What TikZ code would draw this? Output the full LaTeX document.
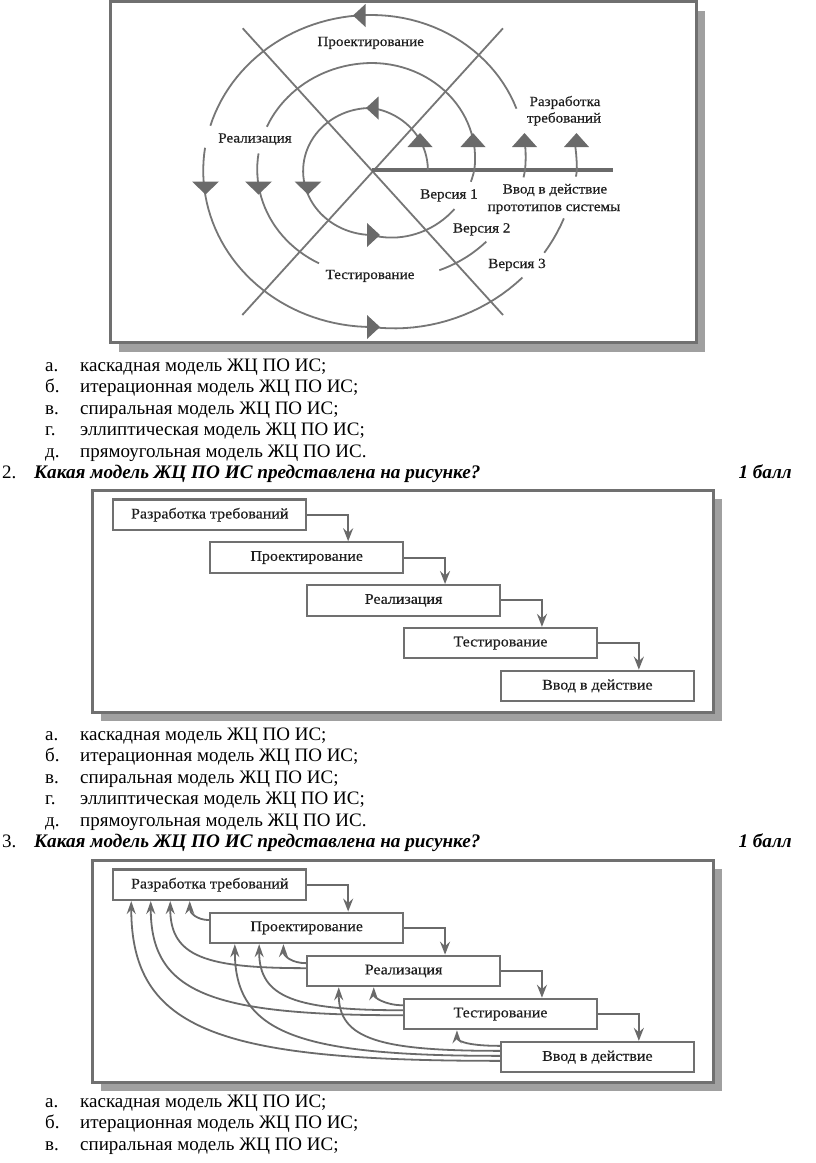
\documentclass[tikz,border=0pt]{standalone}
\usepackage{fontspec}
\setmainfont{Liberation Serif}
\newfontfamily\dfont[FakeStretch=1.08,FakeBold=0.4]{Liberation Serif}
\usetikzlibrary{arrows.meta,calc}
\definecolor{lnc}{HTML}{767676}
\definecolor{arc}{HTML}{6A6A6A}
\definecolor{frc}{HTML}{707070}
\definecolor{shc}{HTML}{A0A0A0}
\definecolor{txc}{HTML}{1E1E1E}
\newcommand\uparr[1]{\fill[arc] (#1-12.5,147) -- (#1+12.5,147) -- (#1,133) -- cycle;}
\newcommand\dnarr[1]{\fill[arc] (#1-13.5,181.5) -- (#1+13.5,181.5) -- (#1,194.5) -- cycle;}
\newcommand\lfarr[2]{\fill[arc] (#1,#2) -- (#1+12.5,#2-11.5) -- (#1+12.5,#2+11.5) -- cycle;}
\newcommand\rtarr[2]{\fill[arc] (#1,#2) -- (#1-13,#2-12) -- (#1-13,#2+12) -- cycle;}
\begin{document}
\begin{tikzpicture}[x=1pt,y=-1pt,
  sp/.style={draw=lnc, line width=1.8pt},
  lbl/.style={anchor=base, inner sep=0pt, text=txc, font=\dfont\fontsize{14}{16}\selectfont},
  wbox/.style={draw=frc, line width=2.1pt, fill=white, minimum width=193pt, minimum height=30.5pt, inner sep=0pt, text=txc, font=\dfont\fontsize{14.8}{16}\selectfont},
  fwd/.style={draw=arc, line width=2.1pt, -{Stealth[length=13pt,width=10pt,inset=4.5pt]}},
  fb/.style={draw=arc, line width=1.8pt, -{Stealth[length=13pt,width=9pt,inset=4.5pt]}},
  lst/.style={anchor=base west, inner sep=0pt, font=\fontsize{19}{22}\selectfont},
  lstb/.style={anchor=base west, inner sep=0pt, font=\fontsize{19.2}{22}\selectfont\bfseries\itshape},
  frame/.style={draw=frc, line width=3pt, fill=white},
]
\useasboundingbox (0,0) rectangle (816,1163);
\fill[white] (0,0) rectangle (816,1163);

% ---------- figure 1: spiral ----------
\fill[shc] (119,10.5) rectangle (705,351.5);
\path[frame] (110,1.5) rectangle (696,342.5);

\draw[sp] (242.7,28.3) -- (503,315);
\draw[sp] (503,28.3) -- (242.3,315);
\draw[draw=arc, line width=4.8pt] (371.7,170) -- (613.3,170);

% spiral pieces (angle u in degrees, radius piecewise)
\draw[sp] plot[domain=0:90,samples=30,variable=\u] ({371.7+1.08*(52+10*(1-cos(\u)))*cos(\u)},{170-(52+10*(1-cos(\u)))*sin(\u)})
       -- plot[domain=90:270,samples=50,variable=\u] ({371.7+1.08*(62+3*(\u-90)/180)*cos(\u)},{170-(62+3*(\u-90)/180)*sin(\u)})
       -- plot[domain=270:333,samples=20,variable=\u] ({371.7+1.08*(65+30*(\u-270)/90)*cos(\u)},{170-(65+30*(\u-270)/90)*sin(\u)});
\draw[sp] plot[domain=352.7:360,samples=4,variable=\u] ({371.7+1.08*(65+30*(\u-270)/90)*cos(\u)},{170-(65+30*(\u-270)/90)*sin(\u)})
       -- plot[domain=360:450,samples=30,variable=\u] ({371.7+1.08*(95+12*sin(\u))*cos(\u)},{170-(95+12*sin(\u))*sin(\u)})
       -- plot[domain=450:516,samples=25,variable=\u] ({371.7+1.08*(107-2*(\u-450)/180)*cos(\u)},{170-(107-2*(\u-450)/180)*sin(\u)});
\draw[sp] plot[domain=531:602.4,samples=25,variable=\u] ({371.7+1.08*(107-2*(\u-450)/180)*cos(\u)},{170-(107-2*(\u-450)/180)*sin(\u)});
\draw[sp] plot[domain=662:686,samples=10,variable=\u] ({371.7+1.08*(105+37*(\u-630)/90)*cos(\u)},{170-(105+37*(\u-630)/90)*sin(\u)});
\draw[sp] plot[domain=717:720,samples=3,variable=\u] ({371.7+1.08*(105+37*(\u-630)/90)*cos(\u)},{170-(105+37*(\u-630)/90)*sin(\u)})
       -- plot[domain=720:732,samples=6,variable=\u] ({371.7+1.08*(142+13*sin(\u))*cos(\u)},{170-(142+13*sin(\u))*sin(\u)});
\draw[sp] plot[domain=744.6:810,samples=25,variable=\u] ({371.7+1.08*(142+13*sin(\u))*cos(\u)},{170-(142+13*sin(\u))*sin(\u)})
       -- plot[domain=810:883.5,samples=30,variable=\u] ({371.7+1.08*(155+2*(\u-810)/180)*cos(\u)},{170-(155+2*(\u-810)/180)*sin(\u)});
\draw[sp] plot[domain=891.8:990,samples=40,variable=\u] ({371.7+1.08*(155+2*(\u-810)/180)*cos(\u)},{170-(155+2*(\u-810)/180)*sin(\u)})
       -- plot[domain=990:1042.4,samples=20,variable=\u] ({371.7+1.08*(157+33*(\u-990)/90)*cos(\u)},{170-(157+33*(\u-990)/90)*sin(\u)});
\draw[sp] plot[domain=1052.6:1064.8,samples=6,variable=\u] ({371.7+1.08*(157+33*(\u-990)/90)*cos(\u)},{170-(157+33*(\u-990)/90)*sin(\u)});
\draw[sp] plot[domain=1078:1080,samples=3,variable=\u] ({371.7+1.08*(157+33*(\u-990)/90)*cos(\u)},{170-(157+33*(\u-990)/90)*sin(\u)})
       -- plot[domain=1080:1087,samples=4,variable=\u] ({371.7+1.08*190*cos(\u)},{170-190*sin(\u)});

\uparr{420}\uparr{473}\uparr{524.5}\uparr{576.5}
\lfarr{366}{108}\lfarr{353}{15.5}
\dnarr{205.5}\dnarr{258.5}\dnarr{308}
\rtarr{380}{235}\rtarr{380}{327}

\node[lbl] (p1) at (370.7,46) {Проектирование};
\node[lbl] (p2) at (255,142.5) {Реализация};
\node[lbl] (p3) at (565,106) {Разработка};
\node[lbl] (p4) at (564,122.5) {требований};
\node[lbl] (p5) at (449,198.5) {Версия 1};
\node[lbl] (p6) at (555,193.5) {Ввод в действие};
\node[lbl] (p7) at (554,211) {прототипов системы};
\node[lbl] (p8) at (481.7,232.5) {Версия 2};
\node[lbl] (p9) at (517,268) {Версия 3};
\node[lbl] (p10) at (370,279) {Тестирование};

% ---------- list 1 ----------
\node[lst] (l1a) at (45,371) {а.};   \node[lst] (l1at) at (80,371) {каскадная модель ЖЦ ПО ИС;};
\node[lst] (l1b) at (45,392.5) {б.}; \node[lst] (l1bt) at (80,392.5) {итерационная модель ЖЦ ПО ИС;};
\node[lst] (l1c) at (45,414) {в.};   \node[lst] (l1ct) at (80,414) {спиральная модель ЖЦ ПО ИС;};
\node[lst] (l1d) at (45,435.5) {г.}; \node[lst] (l1dt) at (80,435.5) {эллиптическая модель ЖЦ ПО ИС;};
\node[lst] (l1e) at (45,457) {д.};   \node[lst] (l1et) at (80,457) {прямоугольная модель ЖЦ ПО ИС.};
\node[lst] (q2n) at (2,478.5) {2.};
\node[lstb] (q2) at (34,478.5) {Какая модель ЖЦ ПО ИС представлена на рисунке?};
\node[lstb, anchor=base east] (q2p) at (792,478.5) {1 балл};

% ---------- figure 2: waterfall ----------
\fill[shc] (101,498.5) rectangle (722,720.5);
\path[frame] (92.5,490) rectangle (713.5,712);
\node[wbox] (a1) at (209.8,514.75) {Разработка требований};
\node[wbox] (a2) at (306.7,557.55) {Проектирование};
\node[wbox] (a3) at (403.6,600.35) {Реализация};
\node[wbox] (a4) at (500.5,643.15) {Тестирование};
\node[wbox] (a5) at (597.4,685.95) {Ввод в действие};
\foreach \i/\j in {1/2,2/3,3/4,4/5}{
  \coordinate (a\j t) at ($(a\j.north west)+(139,0)$);
  \draw[fwd] (a\i.east) -| (a\j t);
}

% ---------- list 2 ----------
\node[lst] (l2a) at (45,740) {а.};   \node[lst] (l2at) at (80,740) {каскадная модель ЖЦ ПО ИС;};
\node[lst] (l2b) at (45,761.5) {б.}; \node[lst] (l2bt) at (80,761.5) {итерационная модель ЖЦ ПО ИС;};
\node[lst] (l2c) at (45,783) {в.};   \node[lst] (l2ct) at (80,783) {спиральная модель ЖЦ ПО ИС;};
\node[lst] (l2d) at (45,804.5) {г.}; \node[lst] (l2dt) at (80,804.5) {эллиптическая модель ЖЦ ПО ИС;};
\node[lst] (l2e) at (45,826) {д.};   \node[lst] (l2et) at (80,826) {прямоугольная модель ЖЦ ПО ИС.};
\node[lst] (q3n) at (2,847.5) {3.};
\node[lstb] (q3) at (34,847.5) {Какая модель ЖЦ ПО ИС представлена на рисунке?};
\node[lstb, anchor=base east] (q3p) at (792,847.5) {1 балл};

% ---------- figure 3: iterative ----------
\fill[shc] (101,868.5) rectangle (722,1090.5);
\path[frame] (92.5,860) rectangle (713.5,1082);
\node[wbox] (b1) at (209.8,884.75) {Разработка требований};
\node[wbox] (b2) at (306.7,927.85) {Проектирование};
\node[wbox] (b3) at (403.6,970.95) {Реализация};
\node[wbox] (b4) at (500.5,1014.05) {Тестирование};
\node[wbox] (b5) at (597.4,1057.15) {Ввод в действие};
\foreach \i/\j in {1/2,2/3,3/4,4/5}{
  \coordinate (b\j t) at ($(b\j.north west)+(139,0)$);
  \draw[fwd] (b\i.east) -| (b\j t);
}
% feedback start points
\coordinate (s21) at ($(b2.north west)+(0,8.5)$);
\coordinate (s32) at ($(b3.north west)+(0,8.5)$);
\coordinate (s31) at ($(b3.north west)+(0,13.5)$);
\coordinate (s43) at ($(b4.north west)+(0,7.5)$);
\coordinate (s42) at ($(b4.north west)+(0,12.5)$);
\coordinate (s41) at ($(b4.north west)+(0,17.5)$);
\coordinate (s54) at ($(b5.north west)+(0,5)$);
\coordinate (s53) at ($(b5.north west)+(0,10)$);
\coordinate (s52) at ($(b5.north west)+(0,15)$);
\coordinate (s51) at ($(b5.north west)+(0,20)$);
% feedback targets
\coordinate (t51) at ($(b1.south west)+(19,0)$);
\coordinate (t41) at ($(b1.south west)+(38.5,0)$);
\coordinate (t31) at ($(b1.south west)+(58,0)$);
\coordinate (t21) at ($(b1.south west)+(77.5,0)$);
\coordinate (t52) at ($(b2.south west)+(25.7,0)$);
\coordinate (t42) at ($(b2.south west)+(50,0)$);
\coordinate (t32) at ($(b2.south west)+(74.3,0)$);
\coordinate (t53) at ($(b3.south west)+(32.7,0)$);
\coordinate (t43) at ($(b3.south west)+(67.7,0)$);
\coordinate (t54) at ($(b4.south west)+(54,0)$);
\draw[fb] (s21) .. controls +(-12,0) and +(0,12) .. (t21);
\draw[fb] (s32) .. controls +(-14,0) and +(0,12) .. (t32);
\draw[fb] (s43) .. controls +(-18,0) and +(0,10) .. (t43);
\draw[fb] (s54) .. controls +(-38,0) and +(0,9) .. (t54);
\draw[fb] (s31) .. controls +(-100,0) and +(0,56) .. (t31);
\draw[fb] (s42) .. controls +(-107,0) and +(0,54) .. (t42);
\draw[fb] (s53) .. controls +(-120,0) and +(0,52) .. (t53);
\draw[fb] (s41) .. controls +(-190,0) and +(0,93) .. (t41);
\draw[fb] (s52) .. controls +(-200,0) and +(0,90) .. (t52);
\draw[fb] (s51) .. controls +(-280,0) and +(0,130) .. (t51);

% ---------- list 3 ----------
\node[lst] (l3a) at (45,1107) {а.};   \node[lst] (l3at) at (80,1107) {каскадная модель ЖЦ ПО ИС;};
\node[lst] (l3b) at (45,1128.5) {б.}; \node[lst] (l3bt) at (80,1128.5) {итерационная модель ЖЦ ПО ИС;};
\node[lst] (l3c) at (45,1150) {в.};   \node[lst] (l3ct) at (80,1150) {спиральная модель ЖЦ ПО ИС;};
\end{tikzpicture}
\end{document}
